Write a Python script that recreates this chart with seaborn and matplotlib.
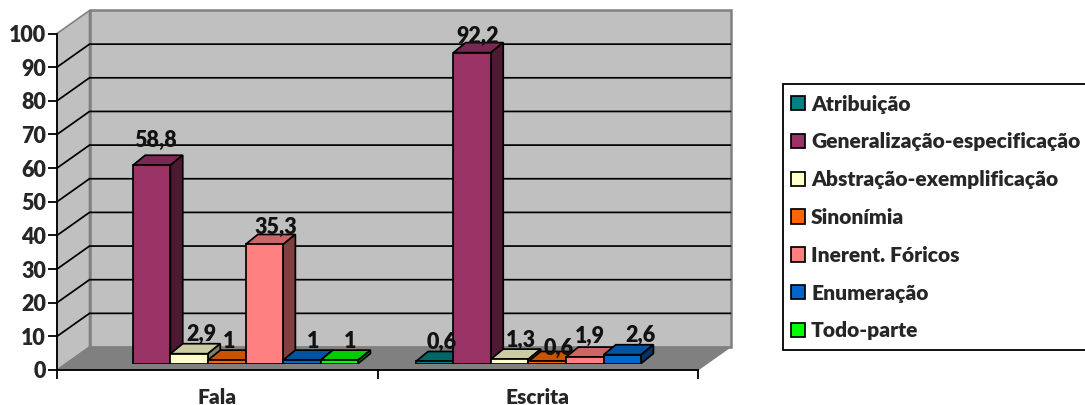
import matplotlib
matplotlib.use("Agg")
import matplotlib.pyplot as plt
from matplotlib.colors import to_rgb
from matplotlib.patches import Polygon, Patch, Rectangle
import pandas as pd
import seaborn as sns

# Percentages per cohesion type, split by speech and writing
modes = ["Fala", "Escrita"]
types = ["Atribuição", "Generalização-especificação", "Abstração-exemplificação",
         "Sinonímia", "Inerent. Fóricos", "Enumeração", "Todo-parte"]
fala = [None, 58.8, 2.9, 1, 35.3, 1, 1]
escrita = [0.6, 92.2, 1.3, 0.6, 1.9, 2.6, None]

colors = ["#008080", "#993366", "#FFFFCC", "#FF6600", "#FF8080", "#0066CC", "#00FF00"]
y_ticks = list(range(0, 101, 10))

# Small per-label nudges (points) so labels clear the neighbouring bars
nudges = {("Fala", 1): (3, 4), ("Fala", 2): (9, 0), ("Fala", 3): (2, 0), ("Fala", 4): (8, -1),
          ("Fala", 5): (8, 0), ("Fala", 6): (8, 0), ("Escrita", 0): (5, 0),
          ("Escrita", 1): (4, -2), ("Escrita", 2): (8, 0), ("Escrita", 3): (8, -4),
          ("Escrita", 4): (4, 1), ("Escrita", 5): (13, 0)}

W, H = 1085, 405
sns.set_style("white")
plt.rcParams["font.family"] = ["Lato", "DejaVu Sans"]
plt.rcParams["font.weight"] = "heavy"
FS = 15.5

fig = plt.figure(figsize=(W / 100, H / 100), dpi=100, facecolor="white")


def px_axes(left, top, right, bottom, **kw):
    return fig.add_axes([left / W, 1 - bottom / H, (right - left) / W, (bottom - top) / H], **kw)


# Front plane of the box: holds the axis lines, ticks, walls and floor
frame = px_axes(57, 33.5, 698, 370, zorder=1)
frame.set_xlim(0, 2)
frame.set_ylim(0, 100)
frame.patch.set_visible(False)
for side in ("top", "right"):
    frame.spines[side].set_visible(False)
for side in ("left", "bottom"):
    frame.spines[side].set_linewidth(1.3)
    frame.spines[side].set_color("black")

box_dx = 32.5 / 320.5
box_dy = 23 / 3.365
wall = "#C0C0C0"
edge = "#808080"
frame.add_patch(Polygon([(0, 0), (box_dx, box_dy), (box_dx, 100 + box_dy), (0, 100)],
                        fc=wall, ec=edge, lw=1.2, clip_on=False, zorder=0))
frame.add_patch(Polygon([(box_dx, box_dy), (2 + box_dx, box_dy), (2 + box_dx, 100 + box_dy),
                         (box_dx, 100 + box_dy)],
                        fc=wall, ec=edge, lw=1.8, clip_on=False, zorder=0))
frame.add_patch(Polygon([(0, 0), (box_dx, box_dy), (2 + box_dx, box_dy), (2, 0)],
                        fc=edge, ec=edge, lw=0.8, clip_on=False, zorder=0.5))
for t in y_ticks[1:-1]:
    frame.plot([0, box_dx, 2 + box_dx], [t, t + box_dy, t + box_dy], color="black", lw=1.25,
               clip_on=False, zorder=0.7, solid_joinstyle="miter")

frame.set_yticks(y_ticks)
frame.set_xticks([0, 1, 2])
frame.set_xticklabels([])
frame.set_xticks([0.5, 1.5], labels=modes, minor=True)
frame.tick_params(axis="both", which="major", length=6.5, width=1.3, color="black",
                  left=True, bottom=True, labelsize=FS, pad=1.5)
frame.tick_params(axis="x", which="minor", length=0, labelsize=FS * 0.97, pad=13)
for label in frame.get_yticklabels() + frame.get_xticklabels(minor=True):
    label.set_fontweight("heavy")

# Bar plane: sits slightly inside the box, so it gets its own axes
table = pd.DataFrame({
    "modo": [m for m in modes for _ in types],
    "tipo": types * 2,
    "valor": fala + escrita,
}).astype({"valor": float})

bars_ax = px_axes(66.5, 26.3, 707.5, 363.5, zorder=2)
sns.barplot(data=table, x="modo", y="valor", hue="tipo", order=modes, hue_order=types,
            palette=colors, width=0.82, gap=0, dodge=True, saturation=1,
            edgecolor="black", linewidth=1.25, ax=bars_ax)
bars_ax.set_xlim(-0.5, 1.5)
bars_ax.set_ylim(0, 100)
bars_ax.get_legend().remove()
bars_ax.axis("off")

depth_x = 12.3 / 320.5
depth_y = 10 / 3.372


def shade(color, factor):
    return tuple(c * factor for c in to_rgb(color))


for i, (container, color) in enumerate(zip(bars_ax.containers, colors)):
    for rect in container:
        h = rect.get_height()
        if not h == h:
            continue
        x0, x1 = rect.get_x(), rect.get_x() + rect.get_width()
        z = 3 + i
        rect.set_zorder(z + 0.2)
        bars_ax.add_patch(Polygon([(x0, h), (x1, h), (x1 + depth_x, h + depth_y), (x0 + depth_x, h + depth_y)],
                                  fc=shade(color, 0.8), ec="black", lw=1.25, clip_on=False, zorder=z))
        bars_ax.add_patch(Polygon([(x1, 0), (x1 + depth_x, depth_y), (x1 + depth_x, h + depth_y), (x1, h)],
                                  fc=shade(color, 0.5), ec="black", lw=1.25, clip_on=False, zorder=z))
        mode = modes[round((x0 + x1) / 2)]
        dx, dy = nudges[(mode, i)]
        bars_ax.annotate(f"{h:g}".replace(".", ","), xy=((x0 + x1) / 2, h), xytext=(dx, 6 + dy),
                         textcoords="offset points", ha="center", va="bottom", fontsize=FS,
                         fontweight="heavy", color="#111111", zorder=20, annotation_clip=False)

# Legend box runs past the right edge of the figure
fig.add_artist(Rectangle((783 / W, 1 - 349.5 / H), 320 / W, 266 / H, transform=fig.transFigure,
                         fc="white", ec="black", lw=1.3))
legend_handles = [Patch(fc=c, ec="black", lw=1.25) for c in colors]
LEG = 15.15
legend = fig.legend(legend_handles, types, loc="upper left", bbox_to_anchor=(791 / W, 1 - 94.5 / H),
                    borderaxespad=0, borderpad=0, frameon=False,
                    handlelength=0.665, handleheight=0.665, handletextpad=0.29,
                    labelspacing=0.895, prop={"weight": "heavy", "size": LEG})

fig.savefig("out.png", dpi=100, facecolor="white")
